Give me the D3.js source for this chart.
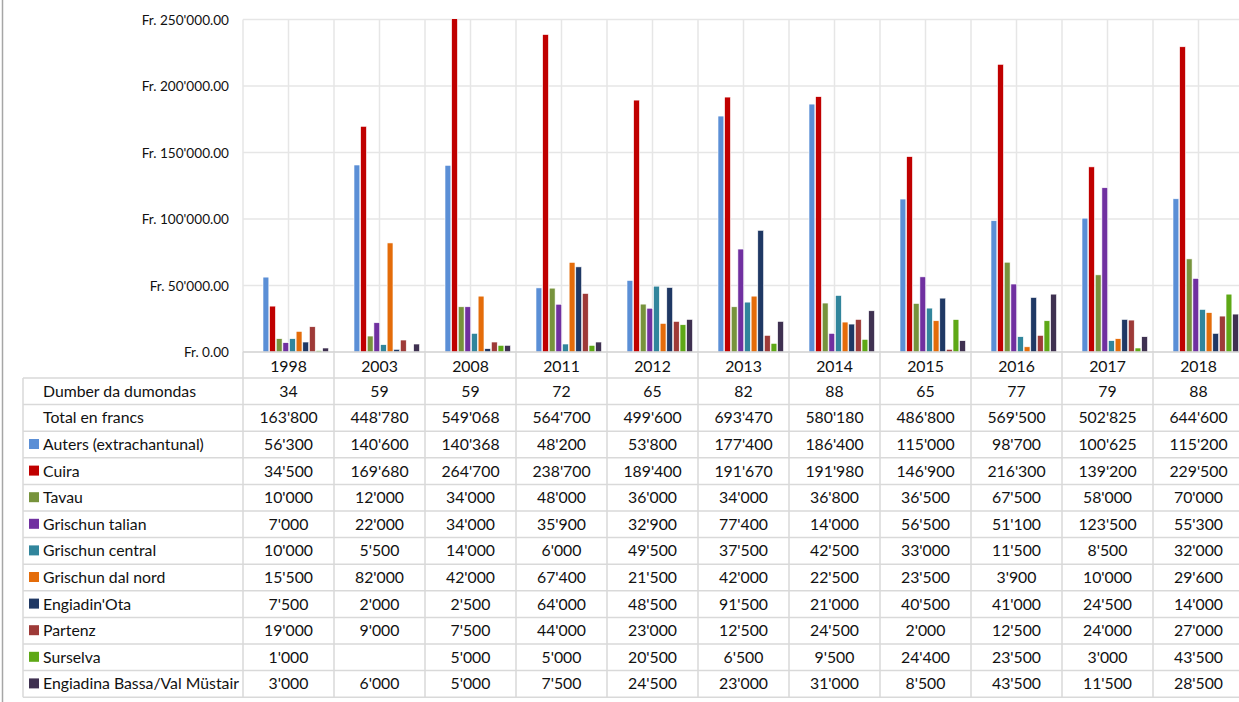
<!DOCTYPE html>
<html><head><meta charset="utf-8">
<script src="https://cdn.jsdelivr.net/npm/d3@7"></script>
<style>
html,body{margin:0;padding:0;background:#fff;overflow:hidden}
svg{display:block}
</style></head>
<body>
<script>
const years = ["1998","2003","2008","2011","2012","2013","2014","2015","2016","2017","2018"];
const seriesNames = ["Auters (extrachantunal)","Cuira","Tavau","Grischun talian","Grischun central","Grischun dal nord","Engiadin'Ota","Partenz","Surselva","Engiadina Bassa/Val Müstair"];
const seriesColors = ["#5B8FD6","#C00000","#77933C","#7030A0","#31859C","#E46C0A","#1F3864","#9E3A38","#5EA816","#3F3151"];
const dumondas = [34,59,59,72,65,82,88,65,77,79,88];
const totals = [163800,448780,549068,564700,499600,693470,580180,486800,569500,502825,644600];
const auters = [56300,140600,140368,48200,53800,177400,186400,115000,98700,100625,115200];
const cuira = [34500,169680,264700,238700,189400,191670,191980,146900,216300,139200,229500];
const tavau = [10000,12000,34000,48000,36000,34000,36800,36500,67500,58000,70000];
const grischunTalian = [7000,22000,34000,35900,32900,77400,14000,56500,51100,123500,55300];
const grischunCentral = [10000,5500,14000,6000,49500,37500,42500,33000,11500,8500,32000];
const grischunDalNord = [15500,82000,42000,67400,21500,42000,22500,23500,3900,10000,29600];
const engiadinOta = [7500,2000,2500,64000,48500,91500,21000,40500,41000,24500,14000];
const partenz = [19000,9000,7500,44000,23000,12500,24500,2000,12500,24000,27000];
const surselva = [1000,null,5000,5000,20500,6500,9500,24400,23500,3000,43500];
const engiadinaBassa = [3000,6000,5000,7500,24500,23000,31000,8500,43500,11500,28500];
const yTicks = [0,50000,100000,150000,200000,250000];

const seriesValues = [auters,cuira,tavau,grischunTalian,grischunCentral,grischunDalNord,engiadinOta,partenz,surselva,engiadinaBassa];

const W=1239,H=702;
const loc = d3.formatLocale({decimal:".",thousands:"'",grouping:[3],currency:["Fr. ",""]});
const fmtAxis = loc.format("$,.2f");
const fmtNum = loc.format(",");

const svg = d3.select("body").append("svg").attr("width",W).attr("height",H);
svg.append("rect").attr("width",W).attr("height",H).attr("fill","#fff");
// left frame line
svg.append("line").attr("x1",2.5).attr("x2",2.5).attr("y1",0).attr("y2",H).attr("stroke","#a6a6a6").attr("stroke-width",1.5);

const plotLeft=243, band=91, y0=352, yTop=19.5;
const x = d3.scaleBand().domain(years).range([plotLeft, plotLeft+band*years.length]).padding(0);
const x1 = d3.scaleBand().domain(seriesNames).range([20,85.5]).paddingInner(0.12).paddingOuter(0);
const y = d3.scaleLinear().domain([0,250000]).range([y0,yTop]);

const grid="#e6e6e6", tableLine="#d9d9d9";
const fontFam = "Lato, 'Open Sans', sans-serif";
const txtCol = "#111";

// horizontal gridlines
svg.append("g").selectAll("line").data(yTicks.slice(1)).join("line")
  .attr("x1",plotLeft).attr("x2",W).attr("y1",d=>y(d)).attr("y2",d=>y(d))
  .attr("stroke",grid).attr("stroke-width",1.5);
// vertical gridlines at band boundaries and centers
const vlines=[];
years.forEach(yr=>{vlines.push(x(yr)); vlines.push(x(yr)+band/2);});
vlines.push(x.range()[1]);
svg.append("g").selectAll("line").data(vlines).join("line")
  .attr("x1",d=>d).attr("x2",d=>d).attr("y1",yTop).attr("y2",y0)
  .attr("stroke",grid).attr("stroke-width",1.5);

// y axis
const yAxis = d3.axisLeft(y).tickValues(yTicks).tickFormat(fmtAxis).tickSize(0).tickPadding(0);
const ga = svg.append("g").attr("transform",`translate(${plotLeft-14},0)`).call(yAxis);
ga.select(".domain").remove();
ga.selectAll("text").attr("font-family",fontFam).attr("font-size","13.6px").attr("fill",txtCol).attr("dy","0.35em");

// clip
svg.append("clipPath").attr("id","pc").append("rect").attr("x",plotLeft).attr("y",yTop-0.5).attr("width",W).attr("height",y0-yTop+0.5);

const gBars = svg.append("g").attr("clip-path","url(#pc)");
years.forEach((yr,i)=>{
  const g = gBars.append("g").attr("transform",`translate(${x(yr)},0)`);
  g.selectAll("rect").data(seriesNames.map((s,k)=>({s,k,v:seriesValues[k][i]})).filter(d=>d.v!=null)).join("rect")
    .attr("x",d=>x1(d.s)).attr("width",x1.bandwidth())
    .attr("y",d=>y(d.v)).attr("height",d=>y0-y(d.v))
    .attr("fill",d=>seriesColors[d.k]).attr("stroke","#fff").attr("stroke-width",0.6);
});

// axis baseline
svg.append("line").attr("x1",plotLeft).attr("x2",W).attr("y1",y0).attr("y2",y0).attr("stroke","#d0d0d0").attr("stroke-width",1.5);

// table
const rowH = 26.6, tableTop = 378, tableLeft = 23;
const rows = [
  {label:"Dumber da dumondas", vals:dumondas, color:null, fmt:d=>String(d)},
  {label:"Total en francs", vals:totals, color:null, fmt:fmtNum}
].concat(seriesNames.map((s,k)=>({label:s, vals:seriesValues[k], color:seriesColors[k], fmt:fmtNum})));
const tableBottom = tableTop + rowH*rows.length;
const gt = svg.append("g");
// row lines
const hl=[];
for(let r=0;r<=rows.length;r++) hl.push(tableTop+r*rowH);
gt.selectAll("line.h").data(hl).join("line").attr("class","h")
  .attr("x1",tableLeft).attr("x2",W).attr("y1",d=>d).attr("y2",d=>d)
  .attr("stroke",tableLine).attr("stroke-width",1.5);
// column lines
const cl=[];
years.forEach(yr=>cl.push(x(yr)));
cl.push(x.range()[1]);
gt.selectAll("line.v").data(cl).join("line").attr("class","v")
  .attr("x1",d=>d).attr("x2",d=>d).attr("y1",y0).attr("y2",tableBottom)
  .attr("stroke",tableLine).attr("stroke-width",1.5);
gt.append("line").attr("x1",tableLeft).attr("x2",tableLeft).attr("y1",tableTop).attr("y2",tableBottom)
  .attr("stroke",tableLine).attr("stroke-width",1.5);

const fs = "15.8px";
// year labels
gt.selectAll("text.yr").data(years).join("text").attr("class","yr")
  .attr("x",d=>x(d)+band/2).attr("y",(y0+tableTop)/2+1).attr("dy","0.35em")
  .attr("text-anchor","middle").attr("font-family",fontFam).attr("font-size",fs).attr("fill",txtCol).text(d=>d);

rows.forEach((row,r)=>{
  const cy = tableTop + r*rowH + rowH/2;
  if(row.color){
    gt.append("rect").attr("x",29).attr("y",cy-5.5).attr("width",10).attr("height",10).attr("fill",row.color);
  }
  gt.append("text").attr("x",43).attr("y",cy).attr("dy","0.35em")
    .attr("font-family",fontFam).attr("font-size",fs).attr("fill",txtCol).text(row.label);
  gt.selectAll(null).data(years.map((yr,i)=>({yr,v:row.vals[i]})).filter(d=>d.v!=null)).join("text")
    .attr("x",d=>x(d.yr)+band/2).attr("y",cy).attr("dy","0.35em").attr("text-anchor","middle")
    .attr("font-family",fontFam).attr("font-size",fs).attr("fill",txtCol).text(d=>row.fmt(d.v));
});
</script>
</body></html>
